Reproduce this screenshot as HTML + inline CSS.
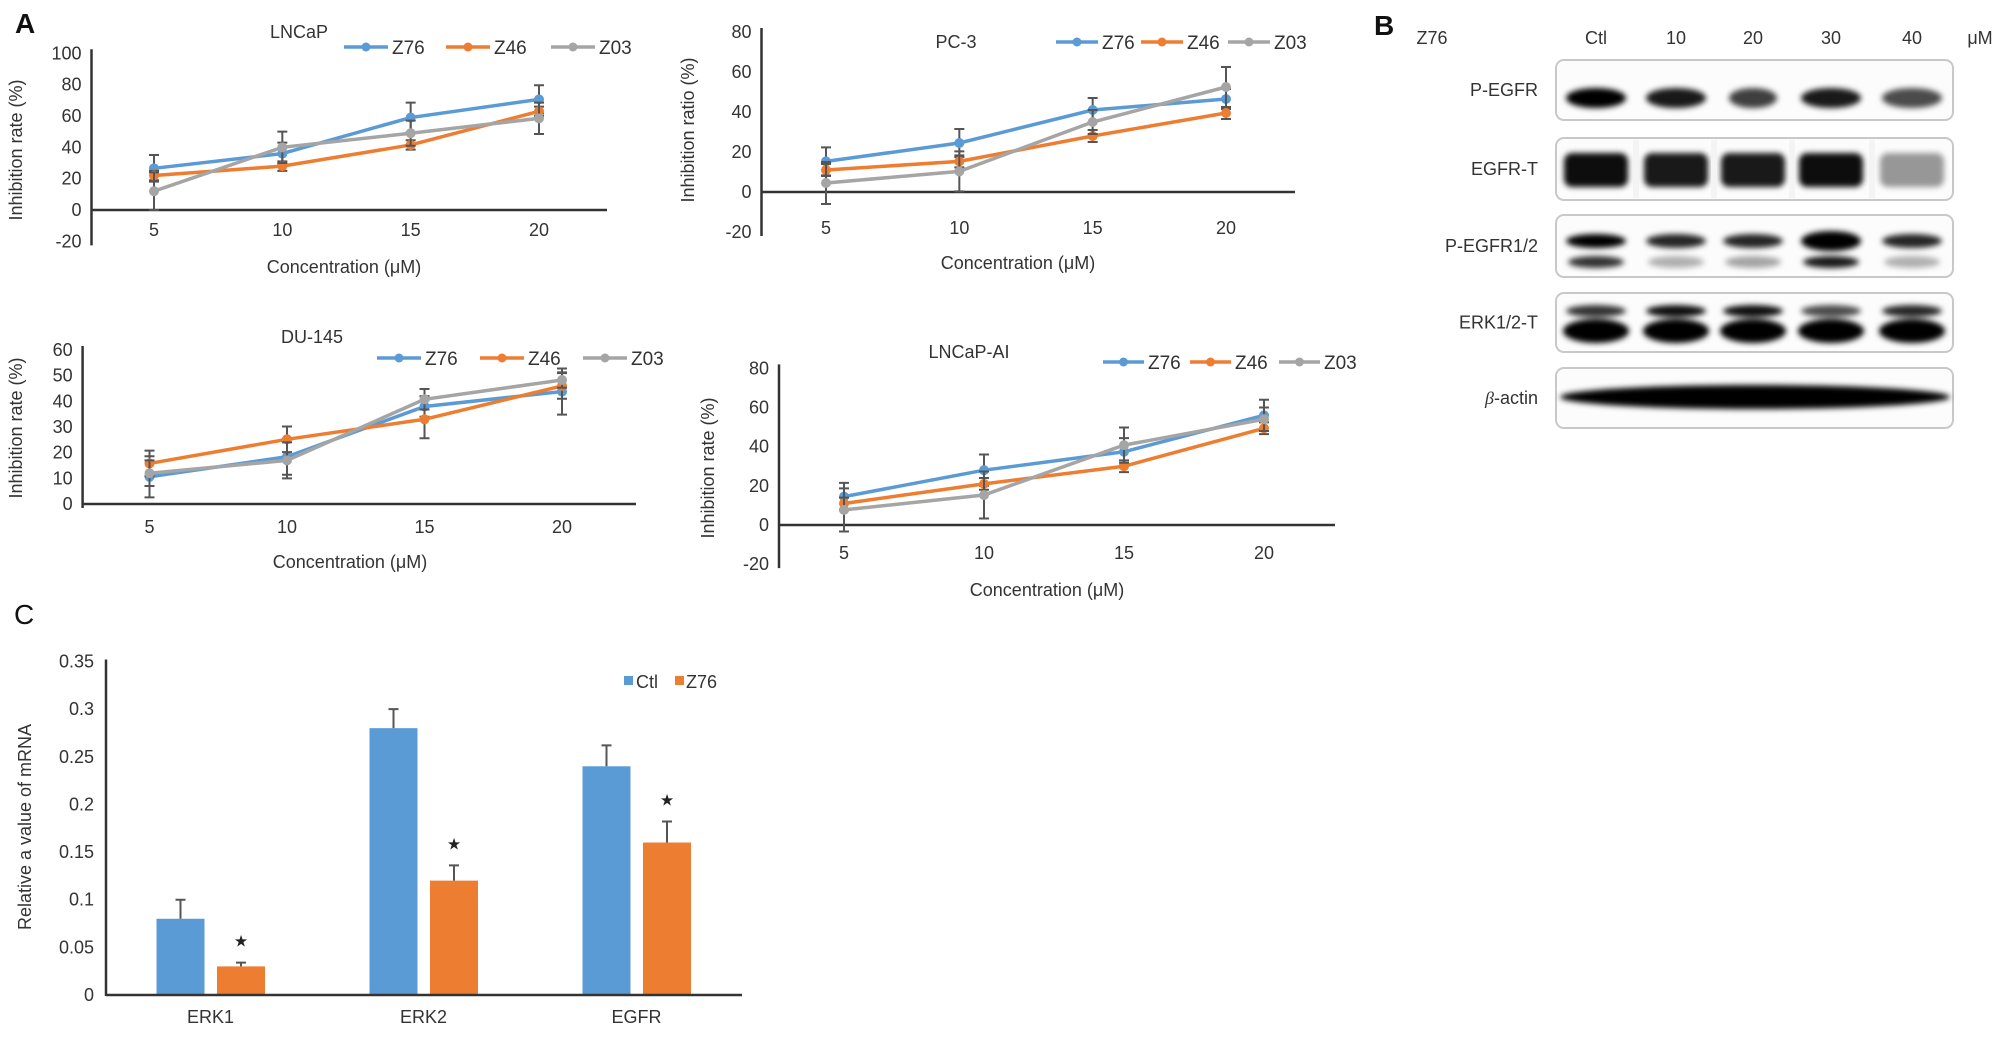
<!DOCTYPE html>
<html><head><meta charset="utf-8"><title>Figure</title>
<style>
html,body{margin:0;padding:0;background:#fff;}
svg{display:block;font-family:"Liberation Sans",Arial,sans-serif;}
</style></head>
<body>
<svg id="fig" width="2008" height="1040" viewBox="0 0 2008 1040" xmlns="http://www.w3.org/2000/svg">
<defs>
<filter id="blur3" x="-30%" y="-60%" width="160%" height="220%"><feGaussianBlur stdDeviation="3"/></filter>
</defs>
<text x="15" y="33" font-size="28" font-weight="bold" fill="#111">A</text>
<text x="1374" y="35" font-size="28" font-weight="bold" fill="#111">B</text>
<text x="14" y="624" font-size="28" fill="#111">C</text>
<g id="charts"></g>
</svg>
<script>
// ---------- Data ----------
const concentrations = [5, 10, 15, 20];
const seriesNames = ['Z76', 'Z46', 'Z03'];
const seriesColors = ['#5b9bd5', '#ed7d31', '#a5a5a5'];

const lncapZ76 = [26.6, 36, 59, 70.6];
const lncapZ76Err = [8.5, 7, 9.5, 9];
const lncapZ46 = [22, 28, 41.5, 63];
const lncapZ46Err = [3, 3, 3, 3];
const lncapZ03 = [12, 40, 49, 58.5];
const lncapZ03Err = [12, 10, 8, 10];

const pc3Z76 = [15.3, 24.5, 41, 46.5];
const pc3Z76Err = [7, 7, 6, 5];
const pc3Z46 = [11, 15.3, 28, 39.5];
const pc3Z46Err = [3, 3, 3, 3];
const pc3Z03 = [4.5, 10.3, 35, 52.5];
const pc3Z03Err = [10.5, 10, 6, 10];

const du145Z76 = [10.6, 18.4, 38, 43.8];
const du145Z76Err = [8, 7, 4, 9];
const du145Z46 = [15.8, 25.2, 33, 46];
const du145Z46Err = [5, 5, 7.4, 5];
const du145Z03 = [12, 17, 40.8, 48.3];
const du145Z03Err = [5, 7, 4, 3];

const aiZ76 = [14.5, 28, 37.4, 56];
const aiZ76Err = [7, 8, 7, 8];
const aiZ46 = [11, 21, 30, 49.4];
const aiZ46Err = [3, 3, 3, 3];
const aiZ03 = [7.7, 15.3, 40.8, 54];
const aiZ03Err = [11, 12, 9, 6];

const genes = ['ERK1', 'ERK2', 'EGFR'];
const ctlValues = [0.08, 0.28, 0.24];
const ctlErr = [0.02, 0.02, 0.022];
const z76Values = [0.03, 0.12, 0.16];
const z76Err = [0.004, 0.016, 0.022];
const barTicks = [0, 0.05, 0.1, 0.15, 0.2, 0.25, 0.3, 0.35];
const barTickLabels = ['0', '0.05', '0.1', '0.15', '0.2', '0.25', '0.3', '0.35'];

const blotLanes = ['Ctl', '10', '20', '30', '40'];
const blotRows = ['P-EGFR', 'EGFR-T', 'P-EGFR1/2', 'ERK1/2-T', 'β-actin'];

// ---------- helpers ----------
const NS = 'http://www.w3.org/2000/svg';
const root = document.getElementById('charts');
function mk(tag, attrs, parent) {
  const e = document.createElementNS(NS, tag);
  for (const k in attrs) e.setAttribute(k, attrs[k]);
  (parent || root).appendChild(e);
  return e;
}
function txt(str, attrs, parent) { const t = mk('text', attrs, parent); t.textContent = str; return t; }

function lineChart(cfg) {
  const g = mk('g', {});
  
  
  const y = v => cfg.zeroY - v * cfg.ppu;
  const x = c => cfg.x5 + (c - 5) * (cfg.x20 - cfg.x5) / 15;
  const ya = mk('line', {x1: cfg.ax, x2: cfg.ax, y1: y(cfg.yMax) - 4, y2: y(cfg.yMin) + 4, stroke: '#333', 'stroke-width': 2.5}, g);
  
  
  const xa = mk('line', {x1: cfg.ax, x2: cfg.xEnd, y1: cfg.zeroY, y2: cfg.zeroY, stroke: '#333', 'stroke-width': 2.5}, g);
  
  
  for (let v = cfg.yMin; v <= cfg.yMax; v += cfg.yStep) {
    const t = txt(String(v), {x: cfg.ax - 10, y: y(v) + 6, 'font-size': 18, 'text-anchor': 'end', fill: '#333'}, g);
    
    
  }
  concentrations.forEach(c => {
    const t = txt(String(c), {x: x(c), y: cfg.tickY + 6, 'font-size': 18, 'text-anchor': 'middle', fill: '#333'}, g);
    
    
  });
  const tt = txt(cfg.title, {x: cfg.titleX, y: cfg.titleY + 6, 'font-size': 18, 'text-anchor': 'middle', fill: '#333'}, g);
  
  
  const xt = txt('Concentration (μM)', {x: cfg.xTitleX, y: cfg.xTitleY + 6, 'font-size': 18, 'text-anchor': 'middle', fill: '#333'}, g);
  
  
  const yt = txt(cfg.yTitle, {x: 0, y: 0, 'font-size': 18, 'text-anchor': 'middle', fill: '#333', transform: `translate(${cfg.yTitleX + 6},${cfg.yTitleY}) rotate(-90)`}, g);
  
  
  cfg.series.forEach((s, i) => {
    const sg = mk('g', {}, g);
    
    
    s.vals.forEach((v, j) => {
      const cx = x(concentrations[j]);
      const e = s.err[j];
      const eb = mk('path', {d: `M${cx},${y(v - e)}V${y(v + e)}M${cx - 5},${y(v + e)}H${cx + 5}M${cx - 5},${y(v - e)}H${cx + 5}`, stroke: '#555', 'stroke-width': 2, fill: 'none'}, sg);
      
      
    });
    const pts = s.vals.map((v, j) => x(concentrations[j]) + ',' + y(v)).join(' ');
    const pl = mk('polyline', {points: pts, fill: 'none', stroke: seriesColors[i], 'stroke-width': 3.5}, sg);
    
    
    s.vals.forEach((v, j) => {
      const p = mk('circle', {cx: x(concentrations[j]), cy: y(v), r: 5, fill: seriesColors[i]}, sg);
      
      
    });
    const lx = cfg.legX[i];
    const lg = mk('g', {}, g);
    
    
    mk('line', {x1: lx, x2: lx + cfg.legLen, y1: cfg.legY, y2: cfg.legY, stroke: seriesColors[i], 'stroke-width': 3.5}, lg);
    mk('circle', {cx: lx + cfg.legLen / 2, cy: cfg.legY, r: 4.5, fill: seriesColors[i]}, lg);
    txt(seriesNames[i], {x: lx + cfg.legLen + 4, y: cfg.legY + 7, 'font-size': 19, fill: '#333'}, lg);
  });
}

lineChart({name: 'chart-lncap', ax: 91.5, xEnd: 607, zeroY: 210, ppu: 1.567, yMin: -20, yMax: 100, yStep: 20,
  x5: 154, x20: 539, tickY: 230, title: 'LNCaP', titleX: 299, titleY: 32, xTitleX: 344, xTitleY: 267,
  yTitle: 'Inhibition rate (%)', yTitleX: 16, yTitleY: 150, legY: 47, legX: [344, 446, 551], legLen: 44,
  series: [{vals: lncapZ76, err: lncapZ76Err}, {vals: lncapZ46, err: lncapZ46Err}, {vals: lncapZ03, err: lncapZ03Err}]});
lineChart({name: 'chart-pc3', ax: 761.5, xEnd: 1295, zeroY: 192, ppu: 2.0, yMin: -20, yMax: 80, yStep: 20,
  x5: 826, x20: 1226, tickY: 228, title: 'PC-3', titleX: 956, titleY: 42, xTitleX: 1018, xTitleY: 263,
  yTitle: 'Inhibition ratio (%)', yTitleX: 688, yTitleY: 130, legY: 42, legX: [1056, 1141, 1228], legLen: 42,
  series: [{vals: pc3Z76, err: pc3Z76Err}, {vals: pc3Z46, err: pc3Z46Err}, {vals: pc3Z03, err: pc3Z03Err}]});
lineChart({name: 'chart-du145', ax: 82.6, xEnd: 636, zeroY: 504, ppu: 2.567, yMin: 0, yMax: 60, yStep: 10,
  x5: 149.5, x20: 562, tickY: 527, title: 'DU-145', titleX: 312, titleY: 337, xTitleX: 350, xTitleY: 562,
  yTitle: 'Inhibition rate (%)', yTitleX: 16, yTitleY: 428, legY: 358, legX: [377, 480, 583], legLen: 44,
  series: [{vals: du145Z76, err: du145Z76Err}, {vals: du145Z46, err: du145Z46Err}, {vals: du145Z03, err: du145Z03Err}]});
lineChart({name: 'chart-lncap-ai', ax: 779, xEnd: 1335, zeroY: 525, ppu: 1.958, yMin: -20, yMax: 80, yStep: 20,
  x5: 844, x20: 1264, tickY: 553, title: 'LNCaP-AI', titleX: 969, titleY: 352, xTitleX: 1047, xTitleY: 590,
  yTitle: 'Inhibition rate (%)', yTitleX: 708, yTitleY: 468, legY: 362, legX: [1103, 1190, 1279], legLen: 41,
  series: [{vals: aiZ76, err: aiZ76Err}, {vals: aiZ46, err: aiZ46Err}, {vals: aiZ03, err: aiZ03Err}]});

// ---------- Western blot ----------
(function () {
  const g = mk('g', {});
  
  
  const laneX = [1596, 1676, 1753, 1831, 1912];
  txt('Z76', {x: 1432, y: 44, 'font-size': 18, 'text-anchor': 'middle', fill: '#333'}, g);
  blotLanes.forEach((l, i) => {
    const t = txt(l, {x: laneX[i], y: 44, 'font-size': 18, 'text-anchor': 'middle', fill: '#333'}, g);
    
    
  });
  txt('μM', {x: 1980, y: 44, 'font-size': 18, 'text-anchor': 'middle', fill: '#333'}, g);
  const boxes = [[60, 120], [138, 200], [215, 277], [293, 352], [368, 428]];
  blotRows.forEach((r, i) => {
    const [t0, t1] = boxes[i];
    const lab = mk('text', {x: 1538, y: (t0 + t1) / 2 + 6, 'font-size': 18, 'text-anchor': 'end', fill: '#333'}, g);
    if (r.startsWith('β')) {
      const s1 = mk('tspan', {'font-style': 'italic', 'font-family': '"Liberation Serif", serif'}, lab); s1.textContent = 'β';
      const s2 = mk('tspan', {}, lab); s2.textContent = '-actin';
    } else lab.textContent = r;
    
    
    const b = mk('rect', {x: 1556, y: t0, width: 397, height: t1 - t0, rx: 8, fill: '#fcfcfc', stroke: '#c8c8c8', 'stroke-width': 2}, g);
    
    
  });
  const bands = mk('g', {filter: 'url(#blur3)'}, g);
  const band = (cx, cy, rx, ry, op) => mk('ellipse', {cx, cy, rx, ry, fill: '#000', opacity: op}, bands);
  const rband = (cx, cy, w, h, op) => mk('rect', {x: cx - w / 2, y: cy - h / 2, width: w, height: h, rx: 8, fill: '#000', opacity: op}, bands);
  [1, 0.9, 0.75, 0.9, 0.7].forEach((o, i) => band(laneX[i], 98, i === 2 ? 24 : 30, 10, o));
  [0.95, 0.9, 0.9, 0.95, 0.4].forEach((o, i) => rband(laneX[i], 170, 64, 34, o));
  [1, 0.85, 0.85, 1, 0.85].forEach((o, i) => band(laneX[i], 241, 30, i === 3 ? 10 : 7, o));
  [0.8, 0.3, 0.35, 0.9, 0.3].forEach((o, i) => band(laneX[i], 262, 28, 6, o));
  [0.8, 0.95, 0.95, 0.7, 0.85].forEach((o, i) => band(laneX[i], 311, 30, 6, o));
  [1, 1, 1, 1, 1].forEach((o, i) => band(laneX[i], 331, 33, 12, o));
  band(1755, 397, 195, 12, 1);
  [1636, 1714, 1792, 1872].forEach(sx => mk('rect', {x: sx - 3, y: 140, width: 6, height: 58, fill: '#f4f4f4'}, g));
})();

// ---------- Bar chart C ----------
(function () {
  const g = mk('g', {});
  
  
  const y = v => 995 - v * 953;
  const gx = i => 210.5 + i * 213;
  const ya = mk('line', {x1: 106, x2: 106, y1: y(0.35) - 2, y2: 996, stroke: '#333', 'stroke-width': 2.5}, g);
  
  
  barTicks.forEach((v, i) => {
    const t = txt(barTickLabels[i], {x: 94, y: y(v) + 6, 'font-size': 18, 'text-anchor': 'end', fill: '#333'}, g);
    
    
  });
  const yt = txt('Relative a value of mRNA', {x: 0, y: 0, 'font-size': 18, 'text-anchor': 'middle', fill: '#333', transform: 'translate(31,827) rotate(-90)'}, g);
  
  
  genes.forEach((gn, i) => {
    const c = gx(i);
    const b1 = mk('rect', {x: c - 54, y: y(ctlValues[i]), width: 48, height: y(0) - y(ctlValues[i]), fill: '#5b9bd5'}, g);
    
    
    const b2 = mk('rect', {x: c + 6.5, y: y(z76Values[i]), width: 48, height: y(0) - y(z76Values[i]), fill: '#ed7d31'}, g);
    
    
    [[c - 30, ctlValues[i], ctlErr[i]], [c + 30.5, z76Values[i], z76Err[i]]].forEach(([ex, v, e]) => {
      const eb = mk('path', {d: `M${ex},${y(v)}V${y(v + e)}M${ex - 5},${y(v + e)}H${ex + 5}`, stroke: '#555', 'stroke-width': 2, fill: 'none'}, g);
      
      
    });
    const st = txt('★', {x: c + 30.5, y: y(z76Values[i] + z76Err[i]) - 16, 'font-size': 16, 'text-anchor': 'middle', fill: '#222'}, g);
    
    
    const lb = txt(gn, {x: c, y: 1023, 'font-size': 18, 'text-anchor': 'middle', fill: '#333'}, g);
    
    
  });
  const xa = mk('line', {x1: 106, x2: 742, y1: 995, y2: 995, stroke: '#333', 'stroke-width': 2.5}, g);
  
  
  const l1 = mk('g', {}, g);
  
  
  mk('rect', {x: 624, y: 676, width: 9, height: 9, fill: '#5b9bd5'}, l1);
  txt('Ctl', {x: 636, y: 688, 'font-size': 18, fill: '#333'}, l1);
  const l2 = mk('g', {}, g);
  
  
  mk('rect', {x: 675, y: 676, width: 9, height: 9, fill: '#ed7d31'}, l2);
  txt('Z76', {x: 686, y: 688, 'font-size': 18, fill: '#333'}, l2);
})();
</script>
</body></html>
